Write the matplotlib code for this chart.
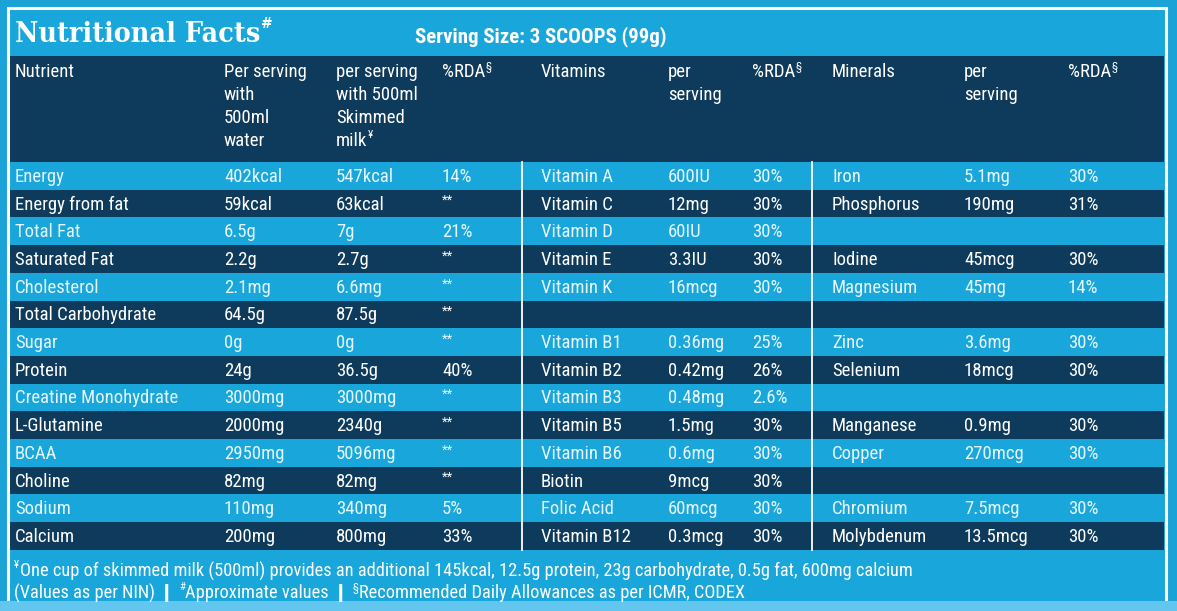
import matplotlib
matplotlib.use("Agg")
import matplotlib.pyplot as plt
from matplotlib import font_manager as fm

# ---------------- data ----------------
title = "Nutritional Facts"
serving = "Serving Size: 3 SCOOPS (99g)"

header_left = ["Nutrient", "Per serving\nwith\n500ml\nwater", "per serving\nwith 500ml\nSkimmed\nmilk\u00a5", "%RDA\u00a7"]
header_vit = ["Vitamins", "per\nserving", "%RDA\u00a7"]
header_min = ["Minerals", "per\nserving", "%RDA\u00a7"]

nutrients = ["Energy", "Energy from fat", "Total Fat", "Saturated Fat", "Cholesterol",
             "Total Carbohydrate", "Sugar", "Protein", "Creatine Monohydrate",
             "L-Glutamine", "BCAA", "Choline", "Sodium", "Calcium"]
with_water = ["402kcal", "59kcal", "6.5g", "2.2g", "2.1mg", "64.5g", "0g", "24g",
              "3000mg", "2000mg", "2950mg", "82mg", "110mg", "200mg"]
with_milk = ["547kcal", "63kcal", "7g", "2.7g", "6.6mg", "87.5g", "0g", "36.5g",
             "3000mg", "2340g", "5096mg", "82mg", "340mg", "800mg"]
nutrient_rda = ["14%", "**", "21%", "**", "**", "**", "**", "40%", "**", "**", "**",
                "**", "5%", "33%"]

vitamins = ["Vitamin A", "Vitamin C", "Vitamin D", "Vitamin E", "Vitamin K", "",
            "Vitamin B1", "Vitamin B2", "Vitamin B3", "Vitamin B5", "Vitamin B6",
            "Biotin", "Folic Acid", "Vitamin B12"]
vitamin_amt = ["600IU", "12mg", "60IU", "3.3IU", "16mcg", "", "0.36mg", "0.42mg",
               "0.48mg", "1.5mg", "0.6mg", "9mcg", "60mcg", "0.3mcg"]
vitamin_rda = ["30%", "30%", "30%", "30%", "30%", "", "25%", "26%", "2.6%", "30%",
               "30%", "30%", "30%", "30%"]

minerals = ["Iron", "Phosphorus", "", "Iodine", "Magnesium", "", "Zinc", "Selenium",
            "", "Manganese", "Copper", "", "Chromium", "Molybdenum"]
mineral_amt = ["5.1mg", "190mg", "", "45mcg", "45mg", "", "3.6mg", "18mcg", "",
               "0.9mg", "270mcg", "", "7.5mcg", "13.5mcg"]
mineral_rda = ["30%", "31%", "", "30%", "14%", "", "30%", "30%", "", "30%", "30%",
               "", "30%", "30%"]

# footer segments: (text, superscript?)
footer1 = [("\u00a5", True), ("One cup of skimmed milk (500ml) provides an additional 145kcal, 12.5g protein, 23g carbohydrate, 0.5g fat, 600mg calcium", False)]
footer2 = [("(Values as per NIN) ", False), ("\u2759", False), (" ", False), ("#", True),
           ("Approximate values ", False), ("\u2759", False), (" ", False), ("\u00a7", True),
           ("Recommended Daily Allowances as per ICMR, CODEX", False)]

# ---------------- style ----------------
W, H = 1177, 611
LIGHT = "#18a6db"
DARK = "#0e3a5b"
OUTER = "#1ba2d6"
STRIP = "#62c6ef"

avail = {f.name for f in fm.fontManager.ttflist}
def pick(names):
    for n in names:
        if n in avail:
            return n
    return "DejaVu Sans"
COND = pick(["Liberation Sans Narrow", "Roboto Condensed", "Open Sans Condensed", "Roboto"])
FAM = [COND, "DejaVu Sans"]

fig = plt.figure(figsize=(W / 100, H / 100), dpi=100)
fig.patch.set_facecolor(OUTER)
ax = fig.add_axes([0, 0, 1, 1])
ax.set_xlim(0, W)
ax.set_ylim(H, 0)
ax.axis("off")
renderer = fig.canvas.get_renderer()

def rect(x0, y0, x1, y1, color, z=1):
    ax.add_patch(plt.Rectangle((x0, y0), x1 - x0, y1 - y0, facecolor=color,
                               edgecolor="none", zorder=z))

def seg_text(x, y, segs, fs, color="white", sup_scale=0.6, **kw):
    for s, sup in segs:
        if sup:
            t = ax.text(x, y - fs * 0.42, s, fontsize=fs * sup_scale, family=FAM,
                        color=color, va="center", ha="left", zorder=7, **kw)
        else:
            t = ax.text(x, y, s, fontsize=fs, family=FAM, color=color,
                        va="center", ha="left", zorder=7, **kw)
        bb = t.get_window_extent(renderer=renderer)
        x += bb.width + (0.5 if sup else 0)
    return x

# inner area
rect(9, 9, 1166, 601, LIGHT, 1)
# white frame
ax.plot([8, 8, 1166, 1166], [601, 8, 8, 601], color="white", lw=2.2, zorder=5,
        solid_joinstyle="miter")
# bottom strip
rect(0, 601, W, H, STRIP, 6)

# header band
rect(10, 56, 1164, 162, DARK, 2)

row_top = 162
row_h = 27.7
n = len(nutrients)
for i in range(n):
    y0 = row_top + i * row_h
    if i % 2 == 1:
        rect(10, y0, 1164, y0 + row_h, DARK, 2)

# vertical separators
table_bottom = row_top + n * row_h
for xs in (522, 812):
    ax.plot([xs, xs], [row_top, table_bottom], color="white", lw=1.3, zorder=4)

# title
tt = ax.text(15, 34, title, fontsize=20.5, fontweight="bold", family="DejaVu Serif",
             fontstretch="condensed", color="white", va="center", ha="left", zorder=7)
tb = tt.get_window_extent(renderer=renderer)
ax.text(15 + tb.width + 1, 24, "#", fontsize=10, fontweight="bold", family="DejaVu Serif",
        color="white", va="center", ha="left", zorder=7)
ax.text(415, 37, serving, fontsize=15, fontweight="bold", family=FAM,
        color="white", va="center", ha="left", zorder=7)

FS = 13.5
col_x = [15, 224, 336, 442, 541, 668, 752, 832, 964, 1068]

# headers
headers = header_left + header_vit + header_min
for x, h in zip(col_x, headers):
    for j, line in enumerate(h.split("\n")):
        yy = 72 + j * 23
        if line.endswith("\u00a7") or line.endswith("\u00a5"):
            seg_text(x, yy, [(line[:-1], False), (line[-1], True)], FS)
        else:
            ax.text(x, yy, line, fontsize=FS, family=FAM, color="white",
                    va="center", ha="left", zorder=7)

# body
columns = [nutrients, with_water, with_milk, nutrient_rda, vitamins, vitamin_amt,
           vitamin_rda, minerals, mineral_amt, mineral_rda]
for i in range(n):
    yc = row_top + i * row_h + row_h / 2 + 1
    tc = "#e6f6fd" if i % 2 == 0 else "white"
    for x, col in zip(col_x, columns):
        s = col[i]
        if not s:
            continue
        if s == "**":
            ax.text(x, yc - 4, s, fontsize=9.5, family=FAM, color=tc,
                    va="center", ha="left", zorder=7)
        else:
            ax.text(x, yc, s, fontsize=FS, family=FAM, color=tc,
                    va="center", ha="left", zorder=7)

# footer
seg_text(14, 571, footer1, 13.2)
seg_text(14, 593, footer2, 13.2)

fig.savefig("out.png", dpi=100, facecolor=fig.get_facecolor())
